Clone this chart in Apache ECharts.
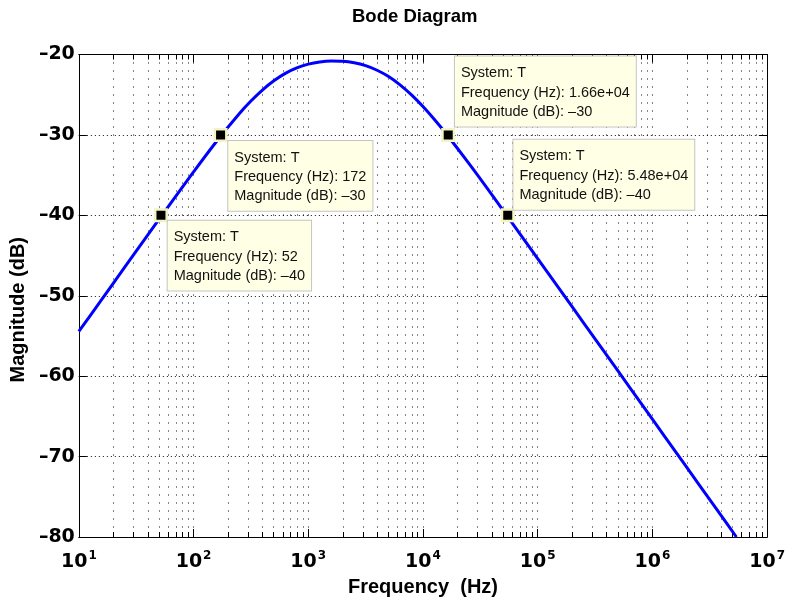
<!DOCTYPE html>
<html>
<head>
<meta charset="utf-8">
<script src="https://cdn.jsdelivr.net/npm/echarts@6/dist/echarts.min.js"></script>
<style>
  html, body { margin: 0; padding: 0; background: #fff; }
  #chart { width: 788px; height: 607px; }
</style>
</head>
<body>
<div id="chart"></div>
<script>
// Magnitude response of system T along the frequency axis
const freqHz = [
  10, 15.85, 25.12, 39.81, 63.1, 100, 158.5, 251.2, 316.2, 398.1, 501.2, 631, 794.3,
  1000, 1259, 1585, 1995, 2512, 3162, 3981, 5012, 6310, 7943,
  10000, 12589, 15849, 25119, 39811, 63096,
  100000, 158489, 251189, 398107, 630957,
  1000000, 1584893, 2511886, 3981072, 5400000
];
const magDb = [
  -54.44, -50.45, -46.45, -42.47, -38.50, -34.60, -30.82, -27.34, -25.79, -24.42, -23.27, -22.35, -21.67,
  -21.20, -20.92, -20.81, -20.84, -21.03, -21.39, -21.96, -22.74, -23.77, -25.02,
  -26.47, -28.09, -29.83, -33.55, -37.43, -41.39,
  -45.37, -49.36, -53.36, -57.35, -61.35,
  -65.35, -69.35, -73.35, -77.35, -80.0
];

// Data tips placed on the curve
const tipSystem = 'T';
const tipFreqHz = [52, 172, 16600, 54800];
const tipMagDb = [-40, -30, -30, -40];

// Axis ticks
const decadeTicks = [10, 100, 1000, 10000, 100000, 1000000, 10000000];
const minorSteps = [2, 3, 4, 5, 6, 7, 8, 9];
const magTicks = [-80, -70, -60, -50, -40, -30, -20];

const minorTicks = [];
decadeTicks.slice(0, -1).forEach(d => minorSteps.forEach(m => minorTicks.push(m * d)));

// label box placement for each tip: [dx, dy, verticalAlign]
const tipPlacement = [
  [13.7, 12.3, 'top'],
  [14.7, 13, 'top'],
  [13.7, -1.4, 'bottom'],
  [12.7, 1.3, 'bottom']
];

const dash = v => (v < 0 ? '\u2013' + Math.abs(v) : String(v));
const fmtFreq = f => {
  if (f < 1000) return String(f);
  const [m, e] = f.toExponential(2).split('e');
  const sign = e[0];
  const digits = e.slice(1).padStart(2, '0');
  return m + 'e' + sign + digits;
};

const tickFont = { fontFamily: 'DejaVu Sans', fontWeight: 'bold', color: '#000' };
const nameFont = { fontFamily: 'Liberation Sans', fontWeight: 'bold', fontSize: 20, color: '#000' };
const blackLine = { color: '#000', width: 1 };

const logBase = { type: 'log', logBase: 10, min: 10, max: 10000000, splitNumber: 6, gridIndex: 0 };

const chart = echarts.init(document.getElementById('chart'), null, { renderer: 'canvas' });

chart.setOption({
  animation: false,
  backgroundColor: '#fff',
  title: {
    text: 'Bode Diagram',
    left: 352,
    top: 7,
    padding: 0,
    textStyle: { fontFamily: 'Liberation Sans', fontWeight: 'bold', fontSize: 18.5, color: '#000' }
  },
  grid: { left: 76, right: 16.5, top: 54.5, bottom: 70, containLabel: false },
  xAxis: [
    Object.assign({}, logBase, {
      position: 'bottom',
      axisLine: { show: true, onZero: false, lineStyle: blackLine },
      axisTick: { show: true, inside: true, length: 8, lineStyle: blackLine, customValues: decadeTicks },
      axisLabel: {
        show: true,
        margin: 13,
        customValues: decadeTicks,
        formatter: v => '{b|10}{s|' + Math.round(Math.log10(v)) + '}',
        rich: {
          b: Object.assign({ fontSize: 19 }, tickFont),
          s: Object.assign({ fontSize: 12, padding: [0, 0, 13, 1] }, tickFont)
        }
      },
      splitLine: { show: true, lineStyle: { color: '#111', width: 1, type: [1, 7] } },
      name: 'Frequency  (Hz)',
      nameLocation: 'middle',
      nameGap: 40,
      nameTextStyle: nameFont
    }),
    Object.assign({}, logBase, {
      position: 'bottom',
      axisLine: { show: false },
      axisTick: { show: true, inside: true, length: 5, lineStyle: blackLine, customValues: minorTicks },
      axisLabel: { show: false },
      splitLine: { show: true, lineStyle: { color: '#111', width: 1, type: [1, 7] } }
    }),
    Object.assign({}, logBase, {
      position: 'top',
      axisLine: { show: true, onZero: false, lineStyle: blackLine },
      axisTick: { show: true, inside: true, length: 8, lineStyle: blackLine, customValues: decadeTicks },
      axisLabel: { show: false },
      splitLine: { show: false }
    }),
    Object.assign({}, logBase, {
      position: 'top',
      axisLine: { show: false },
      axisTick: { show: true, inside: true, length: 5, lineStyle: blackLine, customValues: minorTicks },
      axisLabel: { show: false },
      splitLine: { show: false }
    })
  ],
  yAxis: [
    {
      type: 'value',
      min: magTicks[0],
      max: magTicks[magTicks.length - 1],
      interval: 10,
      position: 'left',
      axisLine: { show: true, onZero: false, lineStyle: blackLine },
      axisTick: { show: true, inside: true, length: 8, lineStyle: blackLine },
      axisLabel: Object.assign({ fontSize: 19, margin: 4, formatter: dash }, tickFont),
      splitLine: { show: true, lineStyle: { color: '#111', width: 1, type: [1, 3] } },
      name: 'Magnitude (dB)',
      nameLocation: 'middle',
      nameGap: 44,
      nameRotate: 90,
      nameTextStyle: Object.assign({ padding: [0, 28, 0, 0] }, nameFont)
    },
    {
      type: 'value',
      min: magTicks[0],
      max: magTicks[magTicks.length - 1],
      interval: 10,
      position: 'right',
      axisLine: { show: true, onZero: false, lineStyle: blackLine },
      axisTick: { show: true, inside: true, length: 8, lineStyle: blackLine },
      axisLabel: { show: false },
      splitLine: { show: false }
    }
  ],
  series: [
    {
      name: tipSystem,
      type: 'line',
      xAxisIndex: 0,
      yAxisIndex: 0,
      data: freqHz.map((f, i) => [f, magDb[i]]),
      symbol: 'none',
      smooth: 0.3,
      clip: true,
      silent: true,
      lineStyle: { color: '#0000ff', width: 3 }
    },
    {
      type: 'scatter',
      xAxisIndex: 0,
      yAxisIndex: 0,
      symbol: 'rect',
      symbolSize: 11.5,
      silent: true,
      z: 5,
      itemStyle: { color: '#000', borderColor: '#f3f3c4', borderWidth: 2.5, opacity: 1 },
      data: tipFreqHz.map((f, i) => ({
        value: [f, tipMagDb[i]],
        label: {
          position: [tipPlacement[i][0], tipPlacement[i][1]],
          align: 'left',
          verticalAlign: tipPlacement[i][2]
        }
      })),
      label: {
        show: true,
        formatter: p => [
          'System: ' + tipSystem,
          'Frequency (Hz): ' + fmtFreq(tipFreqHz[p.dataIndex]),
          'Magnitude (dB): ' + dash(tipMagDb[p.dataIndex])
        ].join('\n'),
        fontFamily: 'Liberation Sans',
        fontSize: 14.5,
        lineHeight: 19.3,
        color: '#111',
        backgroundColor: '#ffffe6',
        borderColor: '#c4c4c4',
        borderWidth: 1,
        padding: [7, 6, 5, 6]
      }
    }
  ]
});
</script>
</body>
</html>
